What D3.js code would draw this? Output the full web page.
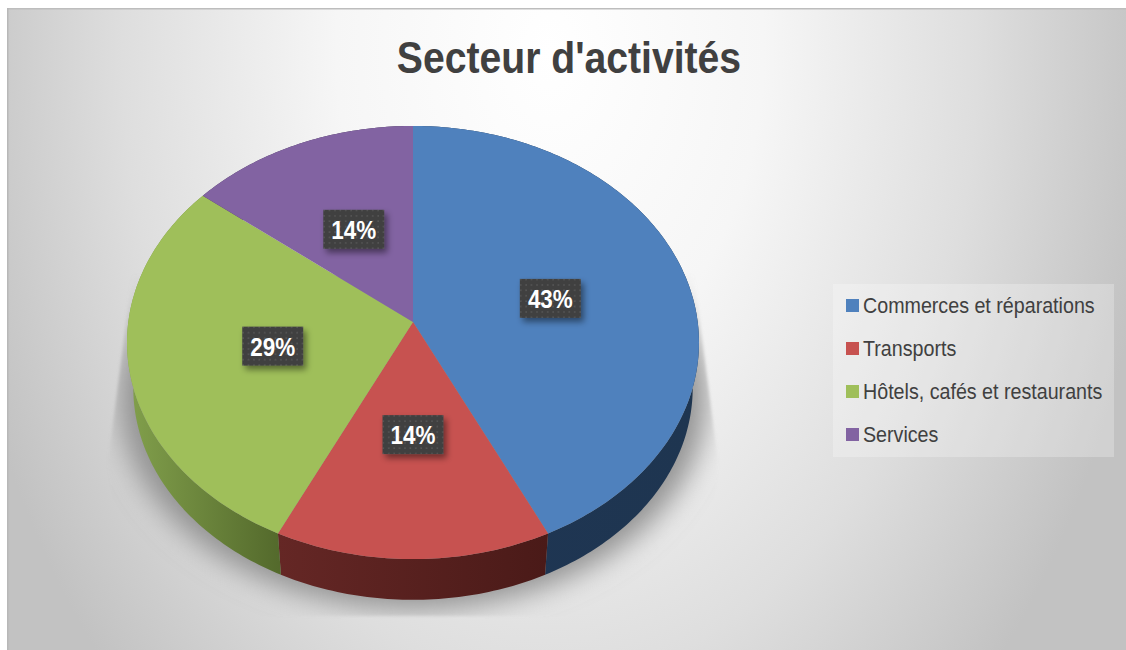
<!DOCTYPE html>
<html>
<head>
<meta charset="utf-8">
<title>Secteur d'activités</title>
<script src="https://cdnjs.cloudflare.com/ajax/libs/d3/7.8.5/d3.min.js"></script>
<style>
  html, body { margin: 0; padding: 0; background: #fff; }
  svg { display: block; }
  text { font-family: "Liberation Sans", Arial, sans-serif; }
</style>
</head>
<body>
<div id="chart"></div>
<script>
var title = "Secteur d'activités";
var categories = ["Commerces et réparations", "Transports", "Hôtels, cafés et restaurants", "Services"];
var shares = [3, 1, 2, 1];
var topColors = ["#4f81bd", "#c75250", "#9fbf5a", "#8263a2"];
var rimLight = ["#1f3654", "#652725", "#82a04c", "#4b3a61"];
var rimDark = ["#1e3550", "#4a1a18", "#546a2c", "#3a2d4b"];

var width = 1126, height = 650;

var svg = d3.select("#chart").append("svg")
    .attr("width", width)
    .attr("height", height);

var defs = svg.append("defs");

var bg = defs.append("radialGradient")
    .attr("id", "bg")
    .attr("gradientUnits", "userSpaceOnUse")
    .attr("cx", 0).attr("cy", 0).attr("r", 1)
    .attr("gradientTransform", "translate(550,50) scale(610,900)");
bg.append("stop").attr("offset", 0).attr("stop-color", "#ffffff");
bg.append("stop").attr("offset", 0.35).attr("stop-color", "#f6f6f6");
bg.append("stop").attr("offset", 0.7).attr("stop-color", "#dedede");
bg.append("stop").attr("offset", 1).attr("stop-color", "#c2c2c2");

defs.append("filter").attr("id", "shadowBlur")
    .attr("x", "-20%").attr("y", "-20%").attr("width", "140%").attr("height", "140%")
    .append("feGaussianBlur").attr("stdDeviation", 14);
defs.append("filter").attr("id", "clipBlur")
    .attr("x", "-5%").attr("y", "-5%").attr("width", "110%").attr("height", "110%")
    .append("feGaussianBlur").attr("stdDeviation", 1.5);

var boxShadow = defs.append("filter").attr("id", "boxShadow")
    .attr("x", "-30%").attr("y", "-30%").attr("width", "170%").attr("height", "170%");
boxShadow.append("feDropShadow")
    .attr("dx", 3).attr("dy", 4).attr("stdDeviation", 3)
    .attr("flood-color", "#000").attr("flood-opacity", 0.45);

var dots = defs.append("pattern").attr("id", "dots")
    .attr("patternUnits", "userSpaceOnUse")
    .attr("width", 5.4).attr("height", 5.4);
dots.append("rect").attr("width", 5.4).attr("height", 5.4).attr("fill", "#404040");
dots.append("rect").attr("x", 2).attr("y", 2).attr("width", 1.6).attr("height", 1.6).attr("fill", "#555555");

defs.append("clipPath").attr("id", "shadowClip")
    .append("path")
    .attr("d", "M132,275 L108,462 L125,616 L705,616 L718,462 L694,275 Z");

// background
svg.append("rect")
    .attr("x", 7).attr("y", 8)
    .attr("width", width - 7).attr("height", height - 8)
    .attr("fill", "url(#bg)");
svg.append("rect").attr("x", 7).attr("y", 8).attr("width", width - 7).attr("height", 1.5).attr("fill", "#bdbdbd");
svg.append("rect").attr("x", 7).attr("y", 8).attr("width", 1.5).attr("height", height - 8).attr("fill", "#b8b8b8");

svg.append("text")
    .attr("transform", "translate(569,73) scale(0.87,1)")
    .attr("text-anchor", "middle")
    .attr("font-size", 45)
    .attr("font-weight", "bold")
    .attr("fill", "#404040")
    .text(title);

// perspective of the tilted pie: apex is above the middle of the outline
var apexX = 413, apexY = 322;
var radX = 284.7, radY = 214.6, tilt = 0.0947;
var baseScale = 0.978, baseY = 368;

function project(angle, r) {
    var u = r * Math.sin(angle), v = -r * Math.cos(angle);
    var w = 1 - tilt * v;
    return [apexX + radX * u / w, apexY + radY * v / w];
}

function projectBase(angle) {
    var p = project(angle, 1);
    return [apexX + baseScale * (p[0] - apexX), baseY + baseScale * (p[1] - apexY)];
}

function arcAngles(d) {
    var n = Math.max(8, Math.ceil((d.endAngle - d.startAngle) * 60));
    return d3.range(n + 1).map(function(i) {
        return d.startAngle + (d.endAngle - d.startAngle) * i / n;
    });
}

var pie = d3.pie().sort(null).value(function(d) { return d; });
var slices = pie(shares);
var total = d3.sum(shares);
var pct = d3.format(".0%");
var line = d3.line();

var colorScale = d3.scaleOrdinal().domain(categories).range(topColors);

function topPath(d) {
    return line([[apexX, apexY]].concat(arcAngles(d).map(function(a) { return project(a, 1); }))) + "Z";
}

function rimPath(d) {
    var angles = arcAngles(d);
    var upper = angles.map(function(a) { return project(a, 1); });
    var lower = angles.slice().reverse().map(projectBase);
    return line(upper.concat(lower)) + "Z";
}

// shadow under the pie, wider than the base and cut off by a trapezoid
var fullCircle = {startAngle: 0, endAngle: 2 * Math.PI};
var shadowOuter = svg.append("g").attr("filter", "url(#clipBlur)");
var shadowClipped = shadowOuter.append("g").attr("clip-path", "url(#shadowClip)");
shadowClipped.append("path")
    .attr("d", line(arcAngles(fullCircle).map(function(a) {
        var p = projectBase(a);
        return [apexX + 1.05 * (p[0] - apexX), p[1] + 9];
    })) + "Z")
    .attr("fill", "#929292")
    .attr("filter", "url(#shadowBlur)");

// side wall
slices.forEach(function(d, i) {
    var g = defs.append("linearGradient")
        .attr("id", "rim" + i)
        .attr("gradientUnits", "userSpaceOnUse")
        .attr("x1", d3.min(arcAngles(d), function(a) { return project(a, 1)[0]; }))
        .attr("x2", d3.max(arcAngles(d), function(a) { return project(a, 1)[0]; }))
        .attr("y1", 0).attr("y2", 0);
    g.append("stop").attr("offset", 0).attr("stop-color", rimLight[i]);
    g.append("stop").attr("offset", 1).attr("stop-color", rimDark[i]);
});

svg.append("g").selectAll("path")
    .data(slices)
    .enter().append("path")
    .attr("d", rimPath)
    .attr("fill", function(d, i) { return "url(#rim" + i + ")"; });

svg.append("g").selectAll("path")
    .data(slices)
    .enter().append("path")
    .attr("d", topPath)
    .attr("fill", function(d, i) { return colorScale(categories[i]); });

// percent labels
var boxW = 61, boxH = 39;
var labels = svg.append("g").selectAll("g")
    .data(slices)
    .enter().append("g")
    .attr("transform", function(d) {
        var p = project((d.startAngle + d.endAngle) / 2, 0.5);
        return "translate(" + p[0] + "," + p[1] + ")";
    });

labels.append("rect")
    .attr("x", -boxW / 2).attr("y", -boxH / 2)
    .attr("width", boxW).attr("height", boxH)
    .attr("fill", "url(#dots)")
    .attr("filter", "url(#boxShadow)");

labels.append("text")
    .attr("transform", "translate(0,9.5) scale(0.88,1)")
    .attr("text-anchor", "middle")
    .attr("font-size", 25.5)
    .attr("font-weight", "bold")
    .attr("fill", "#ffffff")
    .text(function(d) { return pct(d.value / total); });

// legend
svg.append("rect")
    .attr("x", 833).attr("y", 284)
    .attr("width", 281).attr("height", 173)
    .attr("fill", "#ffffff").attr("fill-opacity", 0.25);

var legendY = d3.scalePoint().domain(categories).range([305.5, 434.5]);

var legend = svg.append("g").selectAll("g")
    .data(categories)
    .enter().append("g")
    .attr("transform", function(d) { return "translate(846," + legendY(d) + ")"; });

legend.append("rect")
    .attr("x", 0).attr("y", -6.5)
    .attr("width", 13).attr("height", 13)
    .attr("fill", function(d) { return colorScale(d); });

legend.append("text")
    .attr("transform", "translate(17,7) scale(0.915,1)")
    .attr("font-size", 21.5)
    .attr("fill", "#404040")
    .text(function(d) { return d; });
</script>
</body>
</html>
